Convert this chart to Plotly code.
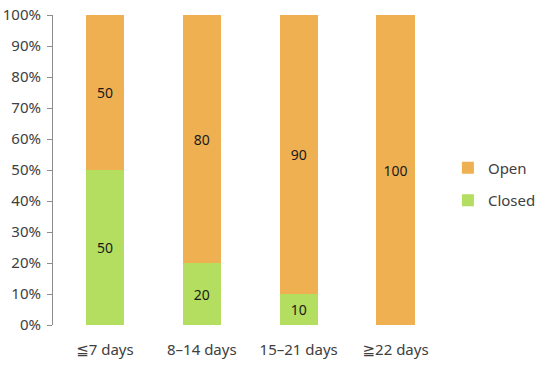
import plotly.graph_objects as go

categories = ["≦7 days", "8–14 days", "15–21 days", "≧22 days"]
closed = [50, 20, 10, 0]
open_ = [50, 80, 90, 100]

FONT = "Noto Sans, Open Sans, DejaVu Sans, sans-serif"

fig = go.Figure()
fig.add_trace(go.Bar(
    x=categories, y=closed, name="Closed", marker_color="#B3DE5F",
    marker_line_width=0,
    text=[str(v) if v else "" for v in closed], textposition="inside",
    insidetextanchor="middle", textfont=dict(size=14, color="#1a1a1a", family=FONT),
    legendgroup="b", legendrank=2,
))
fig.add_trace(go.Bar(
    x=categories, y=open_, name="Open", marker_color="#EFB052",
    marker_line_width=0,
    text=[str(v) for v in open_], textposition="inside",
    insidetextanchor="middle", textfont=dict(size=14, color="#1a1a1a", family=FONT),
    legendgroup="a", legendrank=1,
))

fig.update_layout(
    barmode="stack",
    bargap=0.605,
    width=550, height=368,
    margin=dict(l=53, r=106, t=15, b=43, autoexpand=False),
    paper_bgcolor="white", plot_bgcolor="white",
    font=dict(family=FONT, size=14, color="#404040"),
    uniformtext=dict(mode="show", minsize=14),
    showlegend=True,
    legend=dict(x=1.01, y=0.455, xanchor="left", yanchor="middle",
                traceorder="grouped", tracegroupgap=10,
                font=dict(size=15, color="#404040"),
                itemwidth=30),
    xaxis=dict(range=[-0.536, 3.5], showline=False, ticks="", showgrid=False,
               automargin=False, ticklabelstandoff=14,
               tickfont=dict(size=15, color="#404040")),
    yaxis=dict(range=[0, 100], dtick=10, ticksuffix="%", showgrid=False,
               showline=True, linecolor="#8c8c8c", linewidth=1,
               ticks="outside", ticklen=5, tickcolor="#8c8c8c", automargin=False,
               ticklabelstandoff=3,
               zeroline=False, tickfont=dict(size=15, color="#404040")),
)

fig.write_html("out.html", config={"displayModeBar": False})

# remove default page margin so the figure sits at the window's top-left corner
with open("out.html", "r", encoding="utf-8") as f:
    html = f.read()
html = html.replace("<body>", '<body style="margin:0;padding:0;overflow:hidden">', 1)
with open("out.html", "w", encoding="utf-8") as f:
    f.write(html)
